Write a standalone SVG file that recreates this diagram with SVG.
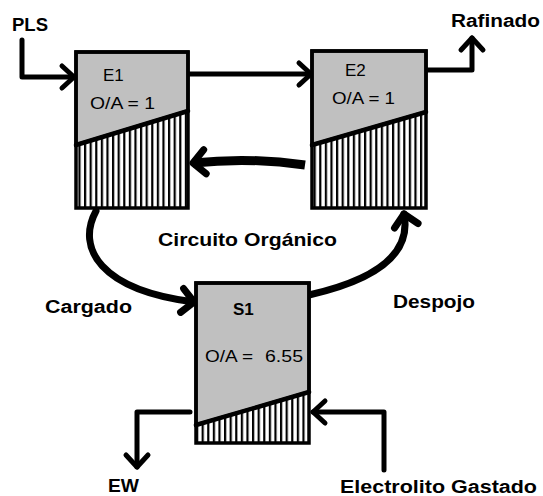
<svg xmlns="http://www.w3.org/2000/svg" width="543" height="496" viewBox="0 0 543 496">
<style>
.box{fill:#c0c0c0;stroke:#000;stroke-width:3.5}
.outline{fill:none;stroke:#000;stroke-width:3.5}
.diag{stroke:#000;stroke-width:4.5;stroke-linecap:round}
.hatch{fill:url(#vh)}
.lbl{font-family:"Liberation Sans",Arial,sans-serif;font-weight:bold;font-size:18px;fill:#000}
.in{font-family:"Liberation Sans",Arial,sans-serif;font-size:17px;fill:#000}
.c{fill:none;stroke:#000;stroke-width:5;stroke-linecap:round;stroke-linejoin:round}
.ct{fill:none;stroke:#000;stroke-width:7;stroke-linecap:round;stroke-linejoin:round}
</style>
<defs>
<pattern id="vh" patternUnits="userSpaceOnUse" width="5.6" height="10">
<rect x="0" y="0" width="5.6" height="10" fill="#fff"/>
<rect x="0" y="0" width="2.2" height="10" fill="#000"/>
</pattern>
<marker id="ah" markerUnits="userSpaceOnUse" viewBox="-16 -16 32 32" markerWidth="32" markerHeight="32" refX="0" refY="0" orient="auto">
<path d="M -12 -11 L 0 0 L -12 11" fill="none" stroke="#000" stroke-width="5" stroke-linecap="round" stroke-linejoin="round"/>
</marker>
<marker id="ahb" markerUnits="userSpaceOnUse" viewBox="-18 -18 36 36" markerWidth="36" markerHeight="36" refX="0" refY="0" orient="auto">
<path d="M -12 -12 L 0 0 L -12 12" fill="none" stroke="#000" stroke-width="7" stroke-linecap="round" stroke-linejoin="round"/>
</marker>
</defs>
<rect x="0" y="0" width="543" height="496" fill="#fff"/>

<g id="connectors">
<path class="c" d="M 22 40 V 77 H 74" marker-end="url(#ah)"/>
<path class="c" d="M 188 74 H 311" marker-end="url(#ah)"/>
<path class="c" d="M 426 70 H 472 V 38" marker-end="url(#ah)"/>
<path class="c" d="M 190 412 H 137 V 467" marker-end="url(#ah)"/>
<path class="c" d="M 384 470 V 412 H 313" marker-end="url(#ah)"/>
<path class="ct" style="stroke-width:9;stroke-linecap:butt" d="M 305 165 Q 250 157 193 163" marker-end="url(#ahb)"/>
<path class="ct" d="M 96 211 C 76 248, 100 290, 194 302" marker-end="url(#ahb)"/>
<path class="ct" d="M 309 295 C 375 280, 412 255, 404 214" marker-end="url(#ahb)"/>
</g>

<g id="E1">
<polygon class="box" points="76,52 188,52 188,111 76,145"/>
<polygon class="hatch" points="76,145 188,111 188,208 76,208"/>
<rect class="outline" x="76" y="52" width="112" height="156"/>
<line class="diag" x1="76" y1="145" x2="188" y2="111"/>
<text class="in" x="103" y="81">E1</text>
<text class="in" x="90" y="109" textLength="65" lengthAdjust="spacingAndGlyphs">O/A = 1</text>
</g>

<g id="E2">
<polygon class="box" points="312,51 426,51 426,112 312,145"/>
<polygon class="hatch" points="312,145 426,112 426,208 312,208"/>
<rect class="outline" x="312" y="51" width="114" height="157"/>
<line class="diag" x1="312" y1="145" x2="426" y2="112"/>
<text class="in" x="345" y="76">E2</text>
<text class="in" x="332" y="104" textLength="63" lengthAdjust="spacingAndGlyphs">O/A = 1</text>
</g>

<g id="S1">
<polygon class="box" points="196,283 309,283 309,392 196,425"/>
<polygon class="hatch" points="196,425 309,392 309,443 196,443"/>
<rect class="outline" x="196" y="283" width="113" height="160"/>
<line class="diag" x1="196" y1="425" x2="309" y2="392"/>
<text class="in" style="font-weight:bold" x="233" y="315">S1</text>
<text class="in" x="205" y="362"><tspan textLength="48" lengthAdjust="spacingAndGlyphs">O/A =</tspan><tspan x="265" textLength="38" lengthAdjust="spacingAndGlyphs">6.55</tspan></text>
</g>

<g id="labels">
<text class="lbl" x="12" y="31" textLength="36" lengthAdjust="spacingAndGlyphs">PLS</text>
<text class="lbl" x="451" y="27" textLength="89" lengthAdjust="spacingAndGlyphs">Rafinado</text>
<text class="lbl" style="font-size:19px" x="158" y="246" textLength="179" lengthAdjust="spacingAndGlyphs">Circuito Orgánico</text>
<text class="lbl" x="45" y="313" textLength="87" lengthAdjust="spacingAndGlyphs">Cargado</text>
<text class="lbl" x="393" y="308" textLength="82" lengthAdjust="spacingAndGlyphs">Despojo</text>
<text class="lbl" x="108" y="492" textLength="31" lengthAdjust="spacingAndGlyphs">EW</text>
<text class="lbl" x="340" y="493" textLength="197" lengthAdjust="spacingAndGlyphs">Electrolito Gastado</text>
</g>
</svg>
